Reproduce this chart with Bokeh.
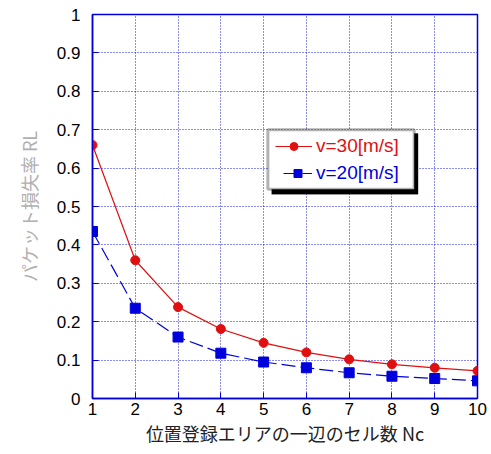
from bokeh.plotting import figure
from bokeh.models import Legend, LegendItem, BoxAnnotation, FixedTicker, Range1d
from bokeh.embed import file_html
from bokeh.resources import INLINE

nc = [1, 2, 3, 4, 5, 6, 7, 8, 9, 10]
v30 = [0.66, 0.36, 0.238, 0.181, 0.145, 0.12, 0.102, 0.089, 0.080, 0.072]
v20 = [0.435, 0.235, 0.160, 0.118, 0.095, 0.080, 0.067, 0.058, 0.052, 0.046]
label30 = "v=30[m/s]"
label20 = "v=20[m/s]"
y_ticks = [0, 0.1, 0.2, 0.3, 0.4, 0.5, 0.6, 0.7, 0.8, 0.9, 1]
y_labels = {0: "0", 0.1: "0.1", 0.2: "0.2", 0.3: "0.3", 0.4: "0.4", 0.5: "0.5",
            0.6: "0.6", 0.7: "0.7", 0.8: "0.8", 0.9: "0.9", 1: "1"}

BLUE = "#0000dd"
RED = "#e01010"

p = figure(width=487, height=448, output_backend="svg", toolbar_location=None,
           x_range=Range1d(1, 10), y_range=Range1d(0, 1),
           min_border_left=92, min_border_right=10, min_border_top=14, min_border_bottom=50)

p.outline_line_color = BLUE
p.outline_line_width = 1.5
p.outline_line_alpha = 1

for ax in (p.xaxis[0], p.yaxis[0]):
    ax.axis_line_color = BLUE
    ax.axis_line_width = 1.5
    ax.major_tick_line_color = BLUE
    ax.major_tick_in = 6
    ax.major_tick_out = 0
    ax.minor_tick_in = 0
    ax.minor_tick_out = 0
    ax.major_label_text_font = "Liberation Sans"
    ax.major_label_text_color = "black"
    ax.major_label_text_font_size = "17px"

p.xaxis.ticker = FixedTicker(ticks=nc)
p.yaxis.ticker = FixedTicker(ticks=y_ticks)
p.yaxis.major_label_overrides = y_labels
p.yaxis.major_label_standoff = 12
p.xaxis.major_label_standoff = 4

p.xaxis.axis_label = "位置登録エリアの一辺のセル数 Nc"
p.xaxis.axis_label_text_font = "Noto Sans CJK JP"
p.xaxis.axis_label_text_font_style = "normal"
p.xaxis.axis_label_text_font_size = "18px"
p.xaxis.axis_label_text_color = "#222222"
p.xaxis.axis_label_standoff = 2

p.yaxis.axis_label = "パケット損失率 RL"
p.yaxis.axis_label_text_font = "Noto Sans CJK JP"
p.yaxis.axis_label_text_font_style = "normal"
p.yaxis.axis_label_text_font_size = "18px"
p.yaxis.axis_label_text_color = "#b0b0b0"
p.yaxis.axis_label_standoff = 12

p.grid.grid_line_color = BLUE
p.grid.grid_line_dash = "1 2"
p.grid.grid_line_width = 1
p.grid.grid_line_alpha = 0.9
p.xgrid.ticker = FixedTicker(ticks=nc)
p.ygrid.ticker = FixedTicker(ticks=y_ticks)

r30l = p.line(nc, v30, line_color=RED, line_width=1.2)
r30m = p.scatter(nc, v30, marker="circle", size=9, fill_color=RED, line_color=RED)
r20l = p.line(nc, v20, line_color=BLUE, line_width=1.2, line_dash="14 5")
r20m = p.scatter(nc, v20, marker="square", size=10, fill_color=BLUE, line_color=BLUE)

# legend frame with shadow (data coordinates)
shadow = BoxAnnotation(left=5.19, right=8.61, bottom=0.532, top=0.69,
                       fill_color="black", fill_alpha=1, line_color="black", level="overlay")
box = BoxAnnotation(left=5.10, right=8.52, bottom=0.545, top=0.70,
                    fill_color="white", fill_alpha=1, line_color="black", line_width=3, level="overlay")
p.add_layout(shadow)
p.add_layout(box)

leg30 = Legend(items=[LegendItem(label=label30, renderers=[r30l, r30m])],
               location=(183, 241), border_line_alpha=0, background_fill_alpha=0,
               label_text_color=RED, label_text_font="Liberation Sans", label_text_font_size="19px",
               glyph_width=37, label_standoff=4, padding=0, margin=0)
leg20 = Legend(items=[LegendItem(label=label20, renderers=[r20l, r20m])],
               location=(191, 214), border_line_alpha=0, background_fill_alpha=0,
               label_text_color=BLUE, label_text_font="Liberation Sans", label_text_font_size="19px",
               glyph_width=29, label_standoff=4, padding=0, margin=0)
p.add_layout(leg30)
p.add_layout(leg20)

open("out.html", "w").write(file_html(p, INLINE))
